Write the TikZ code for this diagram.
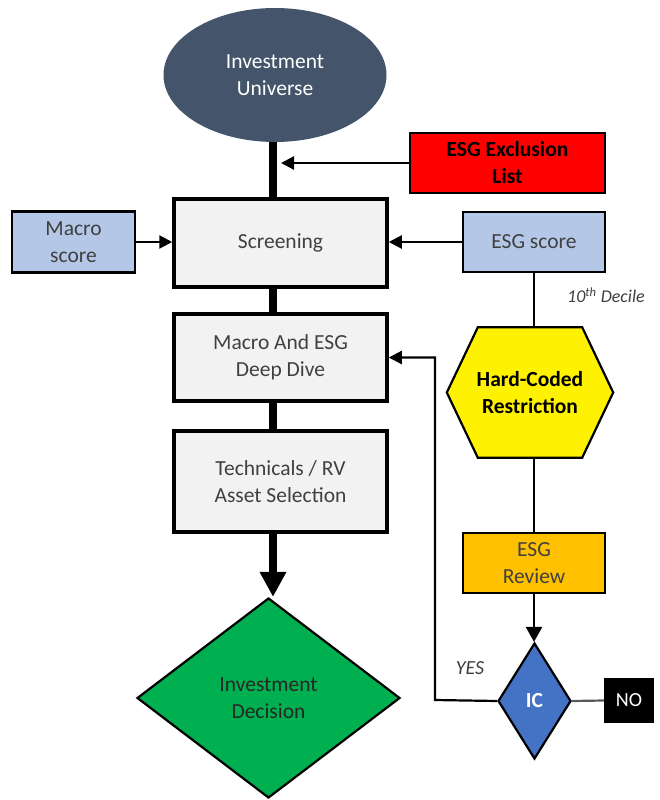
\documentclass[tikz,border=0pt]{standalone}
\usepackage{fontspec}
\setmainfont{Carlito}
\usetikzlibrary{shapes.geometric,arrows.meta,calc}
\definecolor{slate}{HTML}{44546A}
\definecolor{boxgray}{HTML}{F2F2F2}
\definecolor{lblue}{HTML}{B4C7E7}
\definecolor{esgorange}{HTML}{FFC000}
\definecolor{icblue}{HTML}{4472C4}
\definecolor{decgreen}{HTML}{00B050}
\definecolor{txt}{HTML}{404040}
\tikzset{
  mainbox/.style={draw=black, line width=3.5pt, fill=boxgray, text=txt, align=center, inner sep=0pt, font=\fontsize{21.5}{27}\selectfont},
  sidebox/.style={draw=black, line width=2.2pt, align=center, inner sep=0pt, font=\fontsize{21.5}{27}\selectfont},
  thickcon/.style={line width=7.5pt},
  thincon/.style={line width=2.2pt},
  smallarrow/.style={thincon, -{Triangle[length=13pt,width=13pt]}},
}
\begin{document}
\begin{tikzpicture}[x=1pt,y=-1pt]
\useasboundingbox (0,0) rectangle (660,800);
% nodes
\node[ellipse, fill=slate, text=white, minimum width=223, minimum height=134, inner sep=0pt, align=center, font=\fontsize{21.5}{27}\selectfont] (uni) at (275,75) {Investment\\Universe};
\node[sidebox, fill=red, text=black, minimum width=195, minimum height=60, font=\fontsize{21.5}{27}\selectfont\bfseries] (excl) at (507.5,163) {ESG Exclusion\\List};
\node[mainbox, minimum width=213, minimum height=88] (scr) at (280.5,243) {Screening};
\node[sidebox, fill=lblue, text=txt, minimum width=123, minimum height=61] (macro) at (73.5,242) {Macro\\score};
\node[sidebox, fill=lblue, text=txt, minimum width=142, minimum height=60] (esg) at (534,242) {ESG score};
\node[mainbox, minimum width=213, minimum height=87] (deep) at (280.5,357.5) {Macro And ESG\\Deep Dive};
\node[mainbox, minimum width=213, minimum height=101] (tech) at (280.5,481.5) {Technicals / RV\\Asset Selection};
\node[minimum width=166, minimum height=130, inner sep=0pt] (hex) at (530,392.5) {};
\node[sidebox, fill=esgorange, text=txt, minimum width=142, minimum height=60] (review) at (534,563) {ESG\\Review};
\node[diamond, draw=black, line width=2.2pt, fill=icblue, text=white, minimum width=73, minimum height=116, inner sep=0pt, font=\fontsize{21.5}{27}\selectfont\bfseries] (ic) at (534.5,701) {IC};
\node[fill=black, text=white, minimum width=50, minimum height=45, inner sep=0pt, font=\fontsize{20}{24}\selectfont] (no) at (629,700.5) {NO};
\node[diamond, draw=black, line width=2.2pt, fill=decgreen, text=black!85, minimum width=263, minimum height=200, inner sep=0pt, align=center, font=\fontsize{21.5}{27}\selectfont] (dec) at (268.5,698) {Investment\\Decision};
\node[text=txt, font=\fontsize{18}{21}\selectfont\itshape] (dec10) at (606,295) {10\textsuperscript{th} Decile};
\node[text=txt, font=\fontsize{20}{24}\selectfont\itshape] (yes) at (470,668) {YES};
% hexagon outline
\draw[line width=2.2pt, fill=yellow] ($(hex.north west)+(31,0)$) -- ($(hex.north east)+(-31,0)$) -- (hex.east) -- ($(hex.south east)+(-31,0)$) -- ($(hex.south west)+(31,0)$) -- (hex.west) -- cycle;
\node[align=center, font=\fontsize{21.5}{27}\selectfont\bfseries] (hextext) at (hex) {Hard-Coded\\Restriction};
% main thick connectors
\coordinate (xl) at ($(uni.south)+(-2,0)$);
\draw[thickcon] (xl) -- (xl |- scr.north);
\draw[thickcon] (xl |- scr.south) -- (xl |- deep.north);
\draw[thickcon] (xl |- deep.south) -- (xl |- tech.north);
\draw[thickcon, -{Triangle[length=25pt,width=25pt]}] (xl |- tech.south) -- (xl |- dec.north);
% side arrows
\coordinate (exend) at ($(xl |- excl.west)+(8,0)$);
\draw[smallarrow] (excl.west) -- (exend);
\draw[smallarrow] (macro.east) -- (scr.west |- macro.east);
\draw[smallarrow] (esg.west) -- (scr.east |- esg.west);
\draw[thincon] (esg.south) -- (esg.south |- hex.north);
\draw[thincon] (esg.south |- hex.south) -- (review.north);
\draw[thincon, -{Triangle[length=15pt,width=16pt]}] (review.south) -- (review.south |- ic.north);
\draw[thincon, draw=black!65] (ic.east) -- (no.west);
\coordinate (yx) at (435,700);
\draw[thincon, -{Triangle[length=13pt,width=13pt]}] (ic.west) -- (yx) -- (yx |- deep.east) -- (deep.east);
\end{tikzpicture}
\end{document}
